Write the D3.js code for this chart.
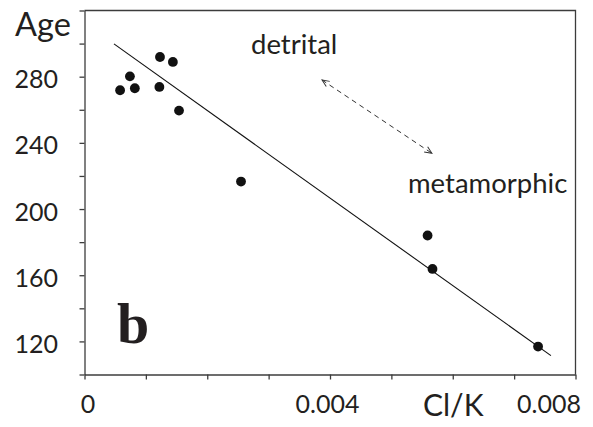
<!DOCTYPE html>
<html>
<head>
<meta charset="utf-8">
<script src="https://cdn.jsdelivr.net/npm/d3@7"></script>
<style>
  html, body { margin: 0; padding: 0; background: #fff; }
  svg { display: block; }
  text { font-family: Lato, "Open Sans", sans-serif; fill: #231f20; }
</style>
</head>
<body>
<svg id="chart" width="593" height="427"></svg>
<script>
// Cl/K ratio vs. age samples
const clk  = [0.00058, 0.00074, 0.00082, 0.00122, 0.00123, 0.00144, 0.00154, 0.00255, 0.00559, 0.00567, 0.00739];
const ages = [271.8, 280.2, 273.0, 273.8, 291.9, 288.9, 259.5, 216.6, 184.0, 163.8, 116.9];

// Least-squares trend line: age = intercept + slope * Cl/K
const trendIntercept = 312.5;
const trendSlope = -26460;
const trendRange = [0.00048, 0.0076];

// Two-headed arrow between the detrital and metamorphic ends (Cl/K, age)
const arrowFrom = [0.00387, 278.0];
const arrowTo   = [0.00566, 233.7];

// Axes
const xDomain = [0, 0.008];
const yDomain = [100, 320];
const xTicks = [0, 0.001, 0.002, 0.003, 0.004, 0.005, 0.006, 0.007, 0.008];
const xTickLabels = [0, 0.004, 0.008];
const yTicks = [100, 120, 140, 160, 180, 200, 220, 240, 260, 280, 300, 320];
const yTickLabels = [120, 160, 200, 240, 280];

const svg = d3.select("#chart");
const x = d3.scaleLinear().domain(xDomain).range([84.5, 575.5]);
const y = d3.scaleLinear().domain(yDomain).range([374.5, 10.5]);

const axisColor = "#3c3c3c";

// frame (top and right edges)
svg.append("path")
  .attr("d", `M${x(xDomain[0])},${y(yDomain[1])}H${x(xDomain[1])}V${y(yDomain[0])}`)
  .attr("fill", "none").attr("stroke", axisColor).attr("stroke-width", 1.3);

const fmtX = d => xTickLabels.includes(d) ? (d === 0 ? "0" : d3.format(".3f")(d)) : "";
const fmtY = d => yTickLabels.includes(d) ? String(d) : "";

const gx = svg.append("g")
  .attr("transform", `translate(0,${y(yDomain[0])})`)
  .call(d3.axisBottom(x).tickValues(xTicks).tickFormat(fmtX).tickSize(5).tickSizeOuter(0).tickPadding(16));
const gy = svg.append("g")
  .attr("transform", `translate(${x(xDomain[0])},0)`)
  .call(d3.axisLeft(y).tickValues(yTicks).tickFormat(fmtY).tickSize(5).tickSizeOuter(0).tickPadding(21.5));

[gx, gy].forEach(g => {
  g.select(".domain").attr("stroke", axisColor).attr("stroke-width", 1.3);
  g.selectAll(".tick line").attr("stroke", axisColor).attr("stroke-width", 1.3);
  g.selectAll(".tick text").attr("font-size", 25).attr("fill", "#231f20")
    .style("font-family", "Lato, 'Open Sans', sans-serif");
});
gy.selectAll(".tick text").attr("dy", "0.44em");
// keep the last x label inside the frame
gx.selectAll(".tick text").filter(d => d === xDomain[1])
  .attr("text-anchor", "end").attr("x", 5);
gx.selectAll(".tick text").filter(d => d === 0).attr("x", 3);
gx.selectAll(".tick text").filter(d => d === 0.004).attr("x", -3);

// trend line
svg.append("line")
  .attr("x1", x(trendRange[0])).attr("y1", y(trendIntercept + trendSlope * trendRange[0]))
  .attr("x2", x(trendRange[1])).attr("y2", y(trendIntercept + trendSlope * trendRange[1]))
  .attr("stroke", "#111").attr("stroke-width", 1.1);

// samples
svg.append("g").selectAll("circle")
  .data(clk.map((v, i) => [v, ages[i]]))
  .join("circle")
  .attr("cx", d => x(d[0])).attr("cy", d => y(d[1]))
  .attr("r", 4.9).attr("fill", "#111");

// dashed double arrow
const defs = svg.append("defs");
defs.append("marker")
  .attr("id", "openHead").attr("viewBox", "0 0 10 10")
  .attr("refX", 9).attr("refY", 5)
  .attr("markerWidth", 9).attr("markerHeight", 9)
  .attr("markerUnits", "userSpaceOnUse")
  .attr("orient", "auto-start-reverse")
  .append("path").attr("d", "M1,1.5L9,5L1,8.5")
  .attr("fill", "none").attr("stroke", "#333").attr("stroke-width", 1.1);

svg.append("line")
  .attr("x1", x(arrowFrom[0])).attr("y1", y(arrowFrom[1]))
  .attr("x2", x(arrowTo[0])).attr("y2", y(arrowTo[1]))
  .attr("stroke", "#333").attr("stroke-width", 1)
  .attr("stroke-dasharray", "5,4")
  .attr("marker-start", "url(#openHead)")
  .attr("marker-end", "url(#openHead)");

// annotations
svg.append("text").attr("x", 251).attr("y", 54).attr("font-size", 27.5).text("detrital");
svg.append("text").attr("x", 408).attr("y", 193).attr("font-size", 27.5).text("metamorphic");
svg.append("text").attr("x", 15).attr("y", 36).attr("font-size", 32.5).text("Age");
svg.append("text").attr("x", 423).attr("y", 416).attr("font-size", 30).text("Cl/K");
svg.append("text").attr("x", 117).attr("y", 343)
  .style("font-family", "'Liberation Serif', 'DejaVu Serif', serif")
  .attr("font-weight", "bold").attr("font-size", 58).text("b");
</script>
</body>
</html>
